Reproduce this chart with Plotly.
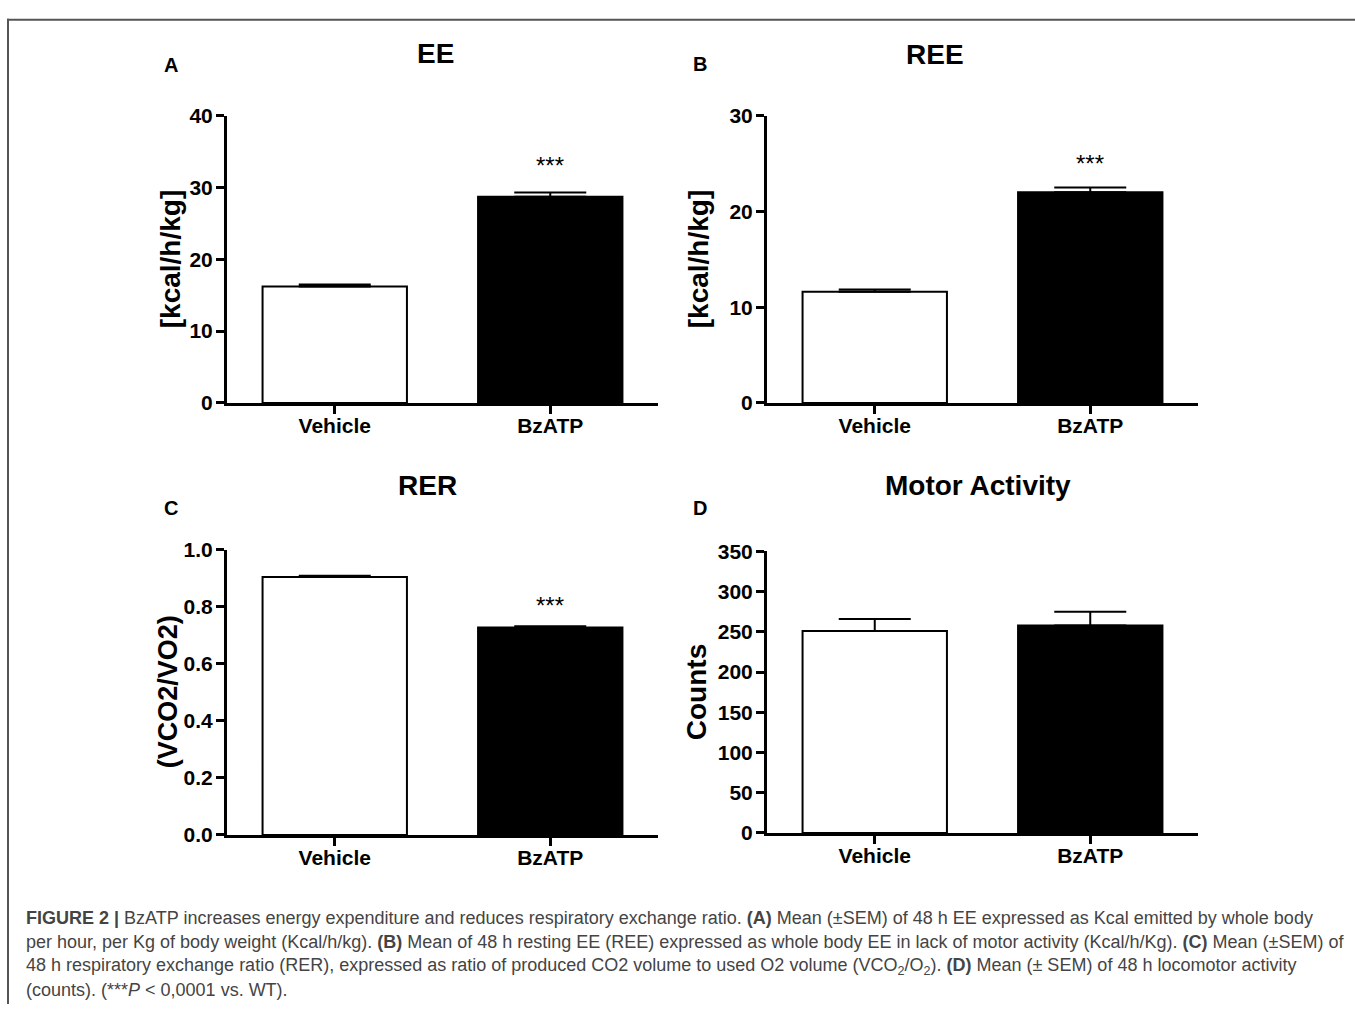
import plotly.graph_objects as go

# ---------------- data ----------------
categories = ["Vehicle", "BzATP"]

ee_mean = [16.2, 28.7]
ee_sem = [0.3, 0.6]

ree_mean = [11.6, 22.0]
ree_sem = [0.25, 0.5]

rer_mean = [0.904, 0.727]
rer_sem = [0.004, 0.004]

motor_mean = [251, 258]
motor_sem = [15, 17]

ee_ticks = [0, 10, 20, 30, 40]
ree_ticks = [0, 10, 20, 30]
rer_ticks = [0.0, 0.2, 0.4, 0.6, 0.8, 1.0]
motor_ticks = [0, 50, 100, 150, 200, 250, 300, 350]

panel_titles = ["EE", "REE", "RER", "Motor Activity"]
panel_letters = ["A", "B", "C", "D"]
y_titles = ["[kcal/h/kg]", "[kcal/h/kg]", "(VCO2/VO2)", "Counts"]
stars = ["***", "***", "***", ""]

caption_lines = [
    "<b>FIGURE 2 |</b> BzATP increases energy expenditure and reduces respiratory exchange ratio. "
    "<b>(A)</b> Mean (±SEM) of 48 h EE expressed as Kcal emitted by whole body",
    "per hour, per Kg of body weight (Kcal/h/kg). <b>(B)</b> Mean of 48 h resting EE (REE) expressed as "
    "whole body EE in lack of motor activity (Kcal/h/Kg). <b>(C)</b> Mean (±SEM) of",
    "48 h respiratory exchange ratio (RER), expressed as ratio of produced CO2 volume to used O2 volume "
    "(VCO<sub>2</sub>/O<sub>2</sub>). <b>(D)</b> Mean (± SEM) of 48 h locomotor activity",
    "(counts). (***<i>P</i> &lt; 0,0001 vs. WT).",
]

# ---------------- layout helpers ----------------
W, H = 1355, 1015


def px(x):
    return x / W


def py(y):
    return 1 - y / H


FONT = "Liberation Sans, Arial, Helvetica, sans-serif"

panels = [
    dict(mean=ee_mean, sem=ee_sem, ticks=ee_ticks, fmt="d",
         xd=(227, 658), yd=(106, 400), title_xy=(435, 42), letter_xy=(171, 54), ytitle_xy=(170, 253), star_shift=27),
    dict(mean=ree_mean, sem=ree_sem, ticks=ree_ticks, fmt="d",
         xd=(767, 1198), yd=(106, 400), title_xy=(935, 43), letter_xy=(700, 53), ytitle_xy=(698, 253), star_shift=24),
    dict(mean=rer_mean, sem=rer_sem, ticks=rer_ticks, fmt=".1f",
         xd=(227, 658), yd=(550, 842), title_xy=(427, 484), letter_xy=(171, 508), ytitle_xy=(168, 696), star_shift=21),
    dict(mean=motor_mean, sem=motor_sem, ticks=motor_ticks, fmt="d",
         xd=(767, 1198), yd=(552, 840), title_xy=(978, 484), letter_xy=(700, 507), ytitle_xy=(696, 696), star_shift=24),
]

fig = go.Figure()
annotations = []
layout_axes = {}

for i, p in enumerate(panels):
    n = "" if i == 0 else str(i + 1)
    xa, ya = "x" + n, "y" + n
    fig.add_trace(go.Bar(
        x=categories, y=p["mean"], width=0.67,
        marker=dict(color=["white", "black"], line=dict(color="black", width=2)),
        error_y=dict(type="data", array=p["sem"], arrayminus=[0, 0], symmetric=False,
                     color="black", thickness=2, width=36),
        xaxis=xa, yaxis=ya, showlegend=False, hoverinfo="skip",
    ))
    layout_axes["xaxis" + n] = dict(
        domain=[px(p["xd"][0]), px(p["xd"][1])], anchor=ya,
        type="category", range=[-0.5, 1.5],
        showline=True, linewidth=3, linecolor="black",
        ticks="outside", ticklen=8, tickwidth=3, tickcolor="black",
        ticklabelstandoff=-6,
        tickfont=dict(family=FONT, size=21, color="black", weight="bold"),
        showgrid=False, zeroline=False, fixedrange=True,
    )
    layout_axes["yaxis" + n] = dict(
        domain=[py(p["yd"][1]), py(p["yd"][0])], anchor=xa,
        range=[0, p["ticks"][-1]], tickvals=p["ticks"], tickformat=p["fmt"],
        showline=True, linewidth=3, linecolor="black",
        ticks="outside", ticklen=8, tickwidth=3, tickcolor="black",
        ticklabelstandoff=-1,
        tickfont=dict(family=FONT, size=21, color="black", weight="bold"),
        showgrid=False, zeroline=False, fixedrange=True,
    )
    annotations.append(dict(
        text="<b>%s</b>" % panel_titles[i], x=px(p["title_xy"][0]), y=py(p["title_xy"][1]),
        xref="paper", yref="paper", xanchor="center", yanchor="middle", showarrow=False,
        font=dict(family=FONT, size=28, color="black")))
    annotations.append(dict(
        text="<b>%s</b>" % panel_letters[i], x=px(p["letter_xy"][0]), y=py(p["letter_xy"][1]),
        xref="paper", yref="paper", xanchor="center", yanchor="middle", showarrow=False,
        font=dict(family=FONT, size=20, color="black")))
    annotations.append(dict(
        text="<b>%s</b>" % y_titles[i], x=px(p["ytitle_xy"][0]), y=py(p["ytitle_xy"][1]),
        xref="paper", yref="paper", xanchor="center", yanchor="middle", showarrow=False,
        textangle=-90, font=dict(family=FONT, size=27 if i == 2 else 28, color="black")))
    if stars[i]:
        annotations.append(dict(
            text=stars[i], x=categories[1], y=p["mean"][1] + p["sem"][1],
            xref=xa, yref=ya, xanchor="center", yanchor="middle", yshift=p["star_shift"],
            showarrow=False, font=dict(family=FONT, size=24, color="black")))

caption_y = [927, 952, 977, 1001]
for line, yy in zip(caption_lines, caption_y):
    annotations.append(dict(
        text=line, x=px(24), y=py(yy), xref="paper", yref="paper",
        xanchor="left", yanchor="middle", showarrow=False, align="left",
        font=dict(family=FONT, size=18, color="#444444")))

shapes = [
    dict(type="line", xref="paper", yref="paper", x0=px(7), x1=1, y0=py(8), y1=py(8),
         line=dict(color="#555555", width=2)),
    dict(type="line", xref="paper", yref="paper", x0=px(8), x1=px(8), y0=0, y1=py(7),
         line=dict(color="#555555", width=2)),
]

fig.update_layout(
    width=W, height=H,
    margin=dict(l=0, r=0, t=0, b=0),
    paper_bgcolor="white", plot_bgcolor="white",
    font=dict(family=FONT, color="black"),
    annotations=annotations, shapes=shapes,
    showlegend=False, bargap=0.33,
    **layout_axes,
)

post = ("var gd=document.getElementById('{plot_id}');"
        "gd.style.position='fixed';gd.style.left='0px';gd.style.top='0px';"
        "document.body.style.margin='0';document.documentElement.style.overflow='hidden';"
        "document.body.style.overflow='hidden';")

fig.write_html("out.html", config={"displayModeBar": False}, post_script=post)
